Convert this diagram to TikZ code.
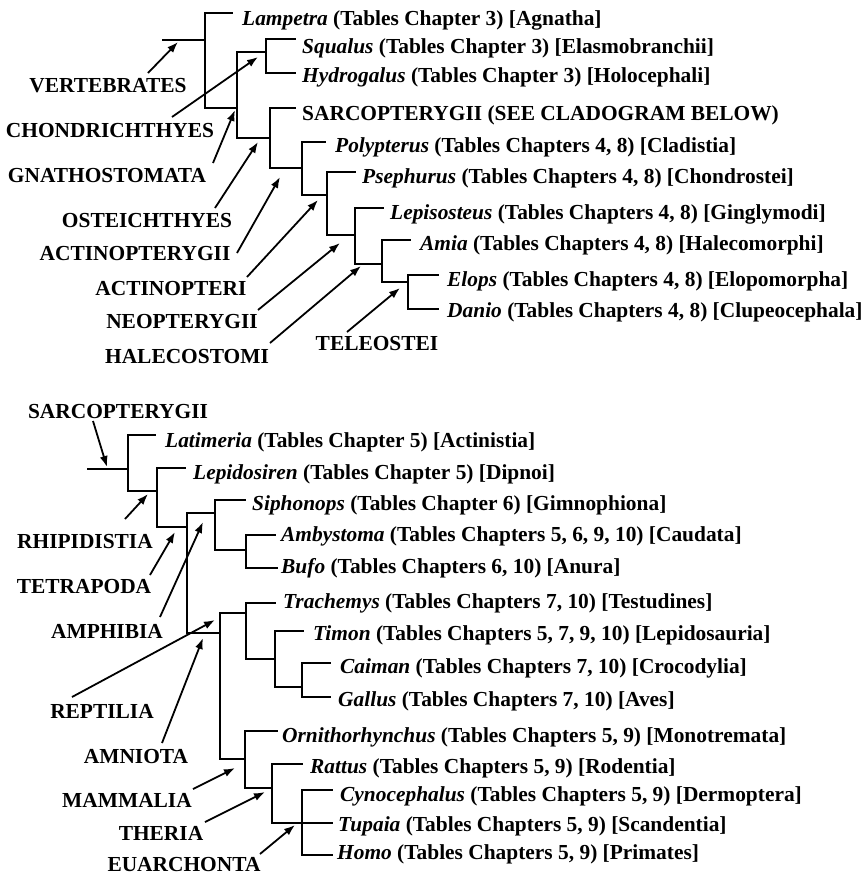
\documentclass[tikz,border=0pt]{standalone}
\usepackage{fontspec}
\setmainfont{Liberation Serif}
\usetikzlibrary{arrows.meta}
\tikzset{
  tree/.style={line width=2pt, line cap=rect},
  arr/.style={line width=1.8pt, -{Latex[length=11pt,width=8pt]}},
  taxon/.style={anchor=base west, inner sep=0pt, font=\fontsize{21.4}{25}\selectfont\bfseries},
  clade/.style={anchor=base, inner sep=0pt, font=\fontsize{21.4}{25}\selectfont\bfseries},
}
\begin{document}
\begin{tikzpicture}[x=1pt,y=-1pt]
\fill[white] (0,0) rectangle (866,876);
\useasboundingbox (0,0) rectangle (866,876);

% ---------------- top cladogram: tree lines
\draw[tree] (163,40) -- (205,40);
\draw[tree] (232,13) -- (205,13) -- (205,108) -- (237,108);
\draw[tree] (237,52) -- (237,138);
\draw[tree] (237,52) -- (266,52);
\draw[tree] (295,39) -- (266,39) -- (266,73) -- (295,73);
\draw[tree] (237,138) -- (270,138);
\draw[tree] (295,108) -- (270,108) -- (270,168) -- (302,168);
\draw[tree] (325,142) -- (302,142) -- (302,195) -- (327,195);
\draw[tree] (355,172) -- (327,172) -- (327,235) -- (355,235);
\draw[tree] (383,208) -- (355,208) -- (355,264) -- (382,264);
\draw[tree] (410,240) -- (382,240) -- (382,282) -- (408,282);
\draw[tree] (438,275) -- (408,275) -- (408,309) -- (438,309);

% taxa
\node[taxon] (lampetra) at (242,25) {\textit{Lampetra} (Tables Chapter 3) [Agnatha]};
\node[taxon] (squalus) at (302,53) {\textit{Squalus} (Tables Chapter 3) [Elasmobranchii]};
\node[taxon] (hydrogalus) at (302,82) {\textit{Hydrogalus} (Tables Chapter 3) [Holocephali]};
\node[taxon] (sarcotop) at (302,120) {SARCOPTERYGII (SEE CLADOGRAM BELOW)};
\node[taxon] (polypterus) at (335,152) {\textit{Polypterus} (Tables Chapters 4, 8) [Cladistia]};
\node[taxon] (psephurus) at (362,183) {\textit{Psephurus} (Tables Chapters 4, 8) [Chondrostei]};
\node[taxon] (lepisosteus) at (390,219) {\textit{Lepisosteus} (Tables Chapters 4, 8) [Ginglymodi]};
\node[taxon] (amia) at (420,250) {\textit{Amia} (Tables Chapters 4, 8) [Halecomorphi]};
\node[taxon] (elops) at (447,286) {\textit{Elops} (Tables Chapters 4, 8) [Elopomorpha]};
\node[taxon] (danio) at (447,317) {\textit{Danio} (Tables Chapters 4, 8) [Clupeocephala]};

% clade labels
\node[clade] (vert) at (108,92) {VERTEBRATES};
\node[clade] (chon) at (110,137) {CHONDRICHTHYES};
\node[clade] (gnat) at (107,182) {GNATHOSTOMATA};
\node[clade] (oste) at (147,227) {OSTEICHTHYES};
\node[clade] (acpg) at (135,260) {ACTINOPTERYGII};
\node[clade] (acti) at (171,295) {ACTINOPTERI};
\node[clade] (neop) at (182,328) {NEOPTERYGII};
\node[clade] (hale) at (187,363) {HALECOSTOMI};
\node[clade] (tele) at (377,350) {TELEOSTEI};

% arrow coordinates
\coordinate (vertS) at (148,73);  \coordinate (vertE) at (178,42);
\coordinate (chonS) at (172,117); \coordinate (chonE) at (258,57);
\coordinate (gnatS) at (213,163); \coordinate (gnatE) at (235,110);
\coordinate (osteS) at (215,208); \coordinate (osteE) at (258,142);
\coordinate (acpgS) at (237,253); \coordinate (acpgE) at (280,177);
\coordinate (actiS) at (247,277); \coordinate (actiE) at (318,200);
\coordinate (neopS) at (258,310); \coordinate (neopE) at (340,243);
\coordinate (haleS) at (270,343); \coordinate (haleE) at (361,266);
\coordinate (teleS) at (347,332); \coordinate (teleE) at (400,288);
\draw[arr] (vertS) -- (vertE);
\draw[arr] (chonS) -- (chonE);
\draw[arr] (gnatS) -- (gnatE);
\draw[arr] (osteS) -- (osteE);
\draw[arr] (acpgS) -- (acpgE);
\draw[arr] (actiS) -- (actiE);
\draw[arr] (neopS) -- (neopE);
\draw[arr] (haleS) -- (haleE);
\draw[arr] (teleS) -- (teleE);

% ---------------- bottom cladogram: tree lines
\draw[tree] (88,469) -- (128,469);
\draw[tree] (155,435) -- (128,435) -- (128,491) -- (157,491);
\draw[tree] (185,468) -- (157,468) -- (157,527) -- (187,527);
\draw[tree] (215,513) -- (187,513) -- (187,633) -- (220,633);
\draw[tree] (245,500) -- (215,500) -- (215,550) -- (246,550);
\draw[tree] (275,535) -- (246,535) -- (246,568) -- (277,568);
\draw[tree] (220,613) -- (220,759) -- (245,759);
\draw[tree] (220,613) -- (246,613);
\draw[tree] (275,603) -- (246,603) -- (246,659) -- (275,659);
\draw[tree] (303,631) -- (275,631) -- (275,687) -- (302,687);
\draw[tree] (330,663) -- (302,663) -- (302,697) -- (330,697);
\draw[tree] (277,731) -- (245,731) -- (245,788) -- (272,788);
\draw[tree] (302,764) -- (272,764) -- (272,823) -- (302,823);
\draw[tree] (332,790) -- (302,790) -- (302,855) -- (332,855);
\draw[tree] (302,823) -- (332,823);

% taxa
\node[taxon] (latimeria) at (165,447) {\textit{Latimeria} (Tables Chapter 5) [Actinistia]};
\node[taxon] (lepidosiren) at (193,479) {\textit{Lepidosiren} (Tables Chapter 5) [Dipnoi]};
\node[taxon] (siphonops) at (252,510) {\textit{Siphonops} (Tables Chapter 6) [Gimnophiona]};
\node[taxon] (ambystoma) at (281,541) {\textit{Ambystoma} (Tables Chapters 5, 6, 9, 10) [Caudata]};
\node[taxon] (bufo) at (281,573) {\textit{Bufo} (Tables Chapters 6, 10) [Anura]};
\node[taxon] (trachemys) at (283,608) {\textit{Trachemys} (Tables Chapters 7, 10) [Testudines]};
\node[taxon] (timon) at (313,640) {\textit{Timon} (Tables Chapters 5, 7, 9, 10) [Lepidosauria]};
\node[taxon] (caiman) at (340,673) {\textit{Caiman} (Tables Chapters 7, 10) [Crocodylia]};
\node[taxon] (gallus) at (338,706) {\textit{Gallus} (Tables Chapters 7, 10) [Aves]};
\node[taxon] (ornitho) at (282,742) {\textit{Ornithorhynchus} (Tables Chapters 5, 9) [Monotremata]};
\node[taxon] (rattus) at (310,773) {\textit{Rattus} (Tables Chapters 5, 9) [Rodentia]};
\node[taxon] (cynoceph) at (340,801) {\textit{Cynocephalus} (Tables Chapters 5, 9) [Dermoptera]};
\node[taxon] (tupaia) at (338,831) {\textit{Tupaia} (Tables Chapters 5, 9) [Scandentia]};
\node[taxon] (homo) at (337,859) {\textit{Homo} (Tables Chapters 5, 9) [Primates]};

% clade labels
\node[clade] (sarc) at (118,418) {SARCOPTERYGII};
\node[clade] (rhip) at (85,548) {RHIPIDISTIA};
\node[clade] (tetr) at (84,593) {TETRAPODA};
\node[clade] (amph) at (107,638) {AMPHIBIA};
\node[clade] (rept) at (102,718) {REPTILIA};
\node[clade] (amni) at (136,763) {AMNIOTA};
\node[clade] (mamm) at (127,807) {MAMMALIA};
\node[clade] (ther) at (161,840) {THERIA};
\node[clade] (euar) at (184,871) {EUARCHONTA};

% arrow coordinates
\coordinate (sarcS) at (93,421);  \coordinate (sarcE) at (107,467);
\coordinate (rhipS) at (125,519); \coordinate (rhipE) at (148,494);
\coordinate (tetrS) at (150,575); \coordinate (tetrE) at (175,532);
\coordinate (amphS) at (160,617); \coordinate (amphE) at (203,522);
\coordinate (reptS) at (72,697);  \coordinate (reptE) at (215,620);
\coordinate (amniS) at (162,743); \coordinate (amniE) at (203,638);
\coordinate (mammS) at (193,789); \coordinate (mammE) at (235,768);
\coordinate (therS) at (205,822); \coordinate (therE) at (265,792);
\coordinate (euarS) at (260,854); \coordinate (euarE) at (295,825);
\draw[arr] (sarcS) -- (sarcE);
\draw[arr] (rhipS) -- (rhipE);
\draw[arr] (tetrS) -- (tetrE);
\draw[arr] (amphS) -- (amphE);
\draw[arr] (reptS) -- (reptE);
\draw[arr] (amniS) -- (amniE);
\draw[arr] (mammS) -- (mammE);
\draw[arr] (therS) -- (therE);
\draw[arr] (euarS) -- (euarE);
\end{tikzpicture}
\end{document}
